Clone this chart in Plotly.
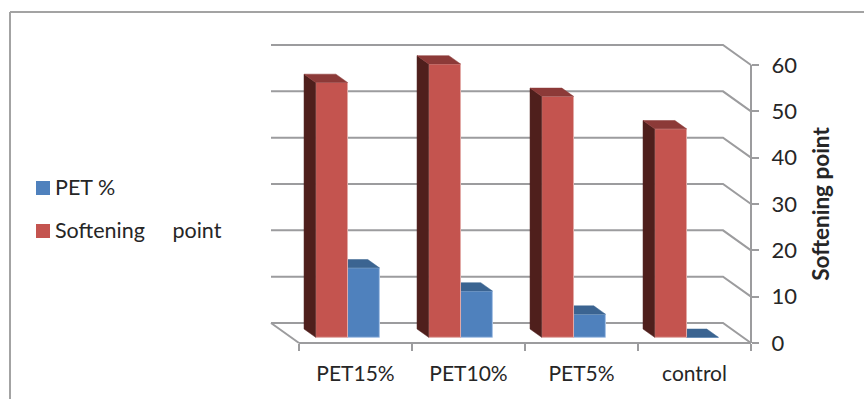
import plotly.graph_objects as go

# Chart data
categories = ["PET15%", "PET10%", "PET5%", "control"]
pet_percent = [15, 10, 5, 0]
softening_point = [55, 59, 52, 45]
y_ticks = [0, 10, 20, 30, 40, 50, 60]
series_names = ["PET %", "Softening     point"]
axis_title = "Softening point"

# Colours of the bar faces
BLUE_FRONT, BLUE_TOP = "#4F81BD", "#3B6491"
RED_FRONT, RED_TOP, RED_SIDE = "#C4544F", "#8C3A38", "#4F1F1C"
GRID = "#9C9C9E"
TEXT = "#262626"
FONT = "Lato, Carlito, Calibri, sans-serif"

# Frame of the front axes, in pixels
WIDTH, HEIGHT = 864, 399
LEFT, RIGHT, TOP, BOTTOM = 299, 751, 65, 343
N = len(categories)
Y_MAX = 60
PX_PER_CAT = (RIGHT - LEFT) / N
PX_PER_VAL = (BOTTOM - TOP) / Y_MAX

# Oblique projection: one unit of depth in axis units
DX = 28 / PX_PER_CAT
DY = 20 / PX_PER_VAL
BAR_W = 0.282
NEAR, FAR = 0.285, 0.70

# Drawing layers reach past the front axes so the receding faces stay visible
PAD_L, PAD_R, PAD_T, PAD_B = 40, 20, 30, 15


def project(x, v, depth):
    return x - depth * DX, v + depth * DY


def polygon(corners, color, xa, ya):
    pts = [project(*c) for c in corners]
    pts.append(pts[0])
    return go.Scatter(
        x=[p[0] for p in pts], y=[p[1] for p in pts],
        mode="lines", fill="toself", fillcolor=color,
        line=dict(color=color, width=0.5),
        hoverinfo="skip", showlegend=False, xaxis=xa, yaxis=ya,
    )


fig = go.Figure()

# Keeps the front axes subplot alive; they carry the ticks and labels
fig.add_trace(go.Scatter(x=[None], y=[None], mode="lines", hoverinfo="skip",
                         showlegend=False))

# Back wall and side wall gridlines
for t in y_ticks:
    gx, gy = zip(*[project(0, t, 1), project(N, t, 1), project(N, t, 0)])
    fig.add_trace(go.Scatter(
        x=gx, y=gy, mode="lines", line=dict(color=GRID, width=2),
        hoverinfo="skip", showlegend=False, xaxis="x2", yaxis="y2",
    ))

# Left edge of the floor, then the front floor edge and the front value axis
for pts in ([project(0, 0, 1), project(0, 0, 0)],
            [project(0, 0, 0), project(N, 0, 0)],
            [project(N, 0, 0), project(N, Y_MAX, 0)]):
    fx, fy = zip(*pts)
    fig.add_trace(go.Scatter(
        x=fx, y=fy, mode="lines", line=dict(color=GRID, width=2),
        hoverinfo="skip", showlegend=False, xaxis="x2", yaxis="y2",
    ))

# Slot of each series within a category, measured from the category centre
red_left, blue_left = -BAR_W, 0.0
centres = [i + 0.5 for i in range(N)]
shift = NEAR * DY

# Blue series: top faces, then front faces
for c, v in zip(centres, pet_percent):
    l, r = c + blue_left, c + blue_left + BAR_W
    fig.add_trace(polygon(
        [(l, v, NEAR), (r, v, NEAR), (r, v, FAR), (l, v, FAR)],
        BLUE_TOP, "x3", "y3",
    ))
fig.add_trace(go.Bar(
    x=[c - NEAR * DX for c in centres], y=pet_percent, base=shift,
    offset=blue_left, width=BAR_W, name=series_names[0],
    marker=dict(color=BLUE_FRONT, line=dict(color="#A9C4E6", width=1)),
    showlegend=False, xaxis="x3", yaxis="y3",
))

# Red series: side and top faces, then front faces
for c, v in zip(centres, softening_point):
    l, r = c + red_left, c + red_left + BAR_W
    fig.add_trace(polygon(
        [(l, 0, NEAR), (l, v, NEAR), (l, v, FAR), (l, 0, FAR)],
        RED_SIDE, "x4", "y4",
    ))
    fig.add_trace(polygon(
        [(l, v, NEAR), (r, v, NEAR), (r, v, FAR), (l, v, FAR)],
        RED_TOP, "x4", "y4",
    ))
fig.add_trace(go.Bar(
    x=[c - NEAR * DX for c in centres], y=softening_point, base=shift,
    offset=red_left, width=BAR_W, name=series_names[1],
    marker=dict(color=RED_FRONT, line=dict(color="#E2A9A6", width=1)),
    showlegend=False, xaxis="x4", yaxis="y4",
))

x_domain = [LEFT / WIDTH, RIGHT / WIDTH]
y_domain = [1 - BOTTOM / HEIGHT, 1 - TOP / HEIGHT]

# Same pixel scale as the front axes, over a slightly larger area
layer_x_domain = [(LEFT - PAD_L) / WIDTH, (RIGHT + PAD_R) / WIDTH]
layer_y_domain = [1 - (BOTTOM + PAD_B) / HEIGHT, 1 - (TOP - PAD_T) / HEIGHT]
layer_x_range = [-PAD_L / PX_PER_CAT, N + PAD_R / PX_PER_CAT]
layer_y_range = [-PAD_B / PX_PER_VAL, Y_MAX + PAD_T / PX_PER_VAL]
hidden = dict(visible=False, fixedrange=True)

# Legend swatches and labels, stacked beside the plot
legend_shapes = []
legend_notes = []
for name, color, row_y in zip(series_names, [BLUE_FRONT, RED_FRONT], [188, 231]):
    legend_shapes.append(dict(
        type="rect", xref="paper", yref="paper", layer="above",
        x0=36 / WIDTH, x1=50 / WIDTH,
        y0=1 - (row_y + 7) / HEIGHT, y1=1 - (row_y - 7) / HEIGHT,
        fillcolor=color, line=dict(width=0),
    ))
    legend_notes.append(dict(
        text=name.replace(" ", "\u00a0"), xref="paper", yref="paper",
        x=53 / WIDTH, y=1 - (row_y - 1) / HEIGHT,
        xanchor="left", yanchor="middle", showarrow=False,
        font=dict(family=FONT, size=21.5, color=TEXT),
    ))

# Chart frame: only its top and left edges fall inside the page
frame = [
    dict(type="line", xref="paper", yref="paper", layer="below",
         x0=10 / WIDTH, x1=1, y0=1 - 12 / HEIGHT, y1=1 - 12 / HEIGHT,
         line=dict(color="#A3A3A3", width=2)),
    dict(type="line", xref="paper", yref="paper", layer="below",
         x0=10 / WIDTH, x1=10 / WIDTH, y0=0, y1=1 - 12 / HEIGHT,
         line=dict(color="#A3A3A3", width=2)),
]

fig.update_layout(
    width=WIDTH, height=HEIGHT, autosize=False,
    margin=dict(l=0, r=0, t=0, b=0, pad=0),
    paper_bgcolor="white", plot_bgcolor="rgba(0,0,0,0)",
    showlegend=False, barmode="overlay",
    font=dict(family=FONT, color=TEXT),
    shapes=frame + legend_shapes,
    annotations=legend_notes,
    xaxis=dict(
        domain=x_domain, range=[0, N], tickmode="array",
        tickvals=centres, ticktext=categories, ticks="",
        showgrid=False, zeroline=False, showline=False, automargin=False,
        ticklabelstandoff=16, tickfont=dict(size=21, color=TEXT),
        minor=dict(tickmode="array", tickvals=list(range(N + 1)),
                   ticks="outside", ticklen=7, tickwidth=2, tickcolor=GRID),
    ),
    yaxis=dict(
        domain=y_domain, range=[0, Y_MAX], side="right", tickmode="array",
        tickvals=y_ticks, ticks="outside", ticklen=7, tickwidth=2,
        tickcolor=GRID, showgrid=False, zeroline=False, showline=False,
        automargin=False, ticklabelstandoff=8,
        tickfont=dict(size=22, color=TEXT),
        title=dict(text=f"<b>{axis_title}</b>", standoff=17,
                   font=dict(size=22.5, color=TEXT)),
    ),
    xaxis2=dict(domain=layer_x_domain, range=layer_x_range, anchor="y2", **hidden),
    yaxis2=dict(domain=layer_y_domain, range=layer_y_range, anchor="x2", **hidden),
    xaxis3=dict(domain=layer_x_domain, range=layer_x_range, anchor="y3", **hidden),
    yaxis3=dict(domain=layer_y_domain, range=layer_y_range, anchor="x3", **hidden),
    xaxis4=dict(domain=layer_x_domain, range=layer_x_range, anchor="y4", **hidden),
    yaxis4=dict(domain=layer_y_domain, range=layer_y_range, anchor="x4", **hidden),
)

fig.write_html("out.html")
